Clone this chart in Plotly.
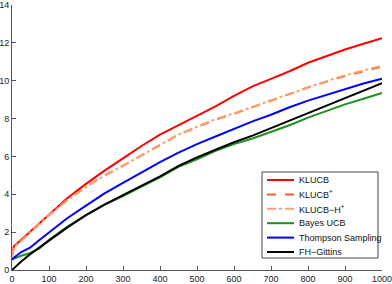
import plotly.graph_objects as go

t = [0, 5, 25, 50, 75, 100, 150, 200, 250, 300, 350, 400, 450, 500, 550, 600, 650, 700, 750, 800, 850, 900, 950, 1000]

klucb = [0.8, 1.25, 1.6, 2.05, 2.5, 2.95, 3.8, 4.55, 5.25, 5.9, 6.55, 7.15, 7.65, 8.15, 8.65, 9.2, 9.7, 10.1, 10.5, 10.95, 11.3, 11.65, 11.95, 12.25]
klucb_plus = [0.7, 1.2, 1.55, 2.0, 2.45, 2.9, 3.7, 4.4, 5.0, 5.5, 6.05, 6.6, 7.15, 7.55, 7.95, 8.25, 8.6, 8.95, 9.3, 9.65, 9.95, 10.25, 10.5, 10.75]
klucb_h_plus = [0.7, 1.2, 1.55, 2.0, 2.45, 2.9, 3.7, 4.38, 4.98, 5.5, 6.05, 6.62, 7.15, 7.57, 7.97, 8.28, 8.62, 8.97, 9.33, 9.67, 9.98, 10.28, 10.55, 10.8]
bayes_ucb = [0.55, 0.6, 0.75, 0.9, 1.15, 1.6, 2.3, 2.9, 3.45, 3.9, 4.4, 4.9, 5.45, 5.85, 6.3, 6.65, 6.95, 7.3, 7.65, 8.05, 8.4, 8.75, 9.05, 9.35]
thompson = [0.55, 0.65, 0.95, 1.2, 1.6, 2.0, 2.75, 3.4, 4.05, 4.6, 5.15, 5.7, 6.2, 6.65, 7.05, 7.45, 7.85, 8.2, 8.6, 8.95, 9.25, 9.55, 9.85, 10.1]
fh_gittins = [0.0, 0.1, 0.45, 0.85, 1.2, 1.55, 2.25, 2.9, 3.45, 3.95, 4.45, 4.95, 5.5, 5.95, 6.35, 6.75, 7.1, 7.5, 7.9, 8.3, 8.7, 9.1, 9.5, 9.87]

x_ticks = [0, 100, 200, 300, 400, 500, 600, 700, 800, 900, 1000]
y_ticks = [0, 2, 4, 6, 8, 10, 12, 14]

names = ["KLUCB", "KLUCB<sup>+</sup>", "KLUCB\u2212H<sup>+</sup>", "Bayes UCB",
         "Thompson Sampling", "FH\u2212Gittins"]
values = [klucb, klucb_plus, klucb_h_plus, bayes_ucb, thompson, fh_gittins]
colors = ["#ff0000", "#ff5a1f", "#ffa070", "#1f8f1f", "#0000ff", "#000000"]
dashes = ["solid", "dash", "dashdot", "solid", "solid", "solid"]

W, H = 392, 284
ML, MR, MT, MB = 12, 10, 5, 14
PW, PH = W - ML - MR, H - MT - MB


def px(xp):
    return (xp - ML) / PW


def py(yp):
    return (H - MB - yp) / PH


fig = go.Figure()
for name, ys, color, dash in zip(names, values, colors, dashes):
    fig.add_trace(go.Scatter(x=t, y=ys, mode="lines", name=name, showlegend=False,
                             line=dict(color=color, width=2, dash=dash)))

FONT = "Liberation Sans, Arial, sans-serif"
axis_common = dict(showgrid=False, zeroline=False, showline=True, linecolor="#555555",
                   linewidth=1, ticks="inside", ticklen=4, tickcolor="#555555",
                   automargin=False, ticklabeloverflow="allow",
                   tickfont=dict(family=FONT, size=9, color="#222222"))

# manual legend (compact, MATLAB-like)
shapes = [dict(type="rect", xref="paper", yref="paper",
               x0=px(262), x1=px(378), y0=py(258), y1=py(172),
               line=dict(color="#444444", width=1), fillcolor="white", layer="above")]
annotations = []
for i, (name, color, dash) in enumerate(zip(names, colors, dashes)):
    yy = 180 + 14.4 * i
    shapes.append(dict(type="line", xref="paper", yref="paper",
                       x0=px(267), x1=px(294), y0=py(yy), y1=py(yy),
                       line=dict(color=color, width=2, dash=dash), layer="above"))
    annotations.append(dict(xref="paper", yref="paper", x=px(297), y=py(yy),
                            xanchor="left", yanchor="middle", text=name, showarrow=False,
                            font=dict(family=FONT, size=9, color="#111111")))

fig.update_layout(
    width=W, height=H,
    margin=dict(l=ML, r=MR, t=MT, b=MB, pad=0),
    paper_bgcolor="white", plot_bgcolor="white",
    xaxis=dict(range=[0, 1000], tickvals=x_ticks, **axis_common),
    yaxis=dict(range=[0, 14], tickvals=y_ticks, **axis_common),
    shapes=shapes, annotations=annotations,
    showlegend=False, hovermode=False,
)

fig.write_html("out.html", config={"displayModeBar": False, "staticPlot": True},
               post_script="document.body.style.margin='0';document.body.style.overflow='hidden';")
